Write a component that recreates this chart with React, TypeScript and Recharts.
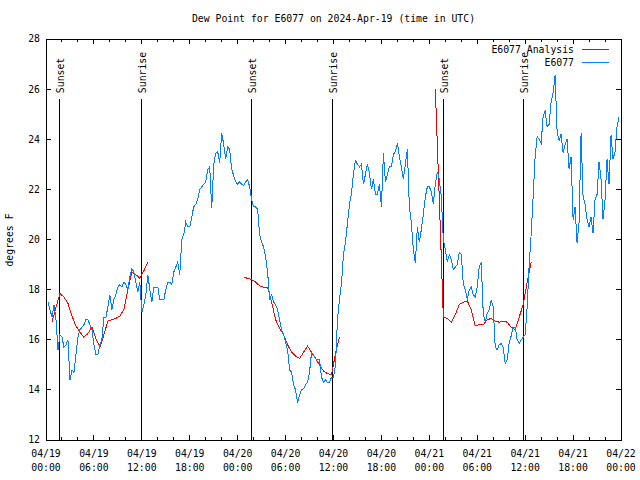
import React from 'react';
import { LineChart, Line, XAxis, YAxis, ReferenceLine, ReferenceArea, Legend } from 'recharts';

const FONT = '"DejaVu Sans Mono", monospace';
const FONT_SIZE = 9.8;
const PLOT_LEFT = 46;
const PLOT_RIGHT = 621;
const PLOT_TOP = 39;
const PLOT_BOTTOM = 440;

// E6077 observed dew point, every 15 minutes starting 04/19 00:15 UTC
const dewStartHour = 0.25;
const dewStepHours = 0.25;
const dewPoint = [
  17.5, 17.2, 16.9, 17.4, 16.8, 15.6, 16.2, 16.1, 15.7, 15.8,
  16.0, 14.4, 14.8, 14.7, 15.4, 16.1, 16.4, 16.5, 16.6, 16.8,
  16.8, 16.6, 16.4, 15.8, 15.4, 15.4, 15.8, 16.0, 16.9, 16.9,
  17.3, 17.8, 17.2, 17.6, 17.8, 18.1, 18.2, 18.1, 18.3, 18.2,
  18.0, 18.5, 18.85, 18.7, 18.3, 17.9, 18.3, 17.1, 17.4, 17.8,
  18.6, 18.0, 17.5, 18.1, 18.1, 18.1, 17.6, 17.6, 17.6, 18.0,
  18.3, 18.3, 18.2, 18.7, 18.9, 19.1, 18.6, 20.0, 20.2, 20.7,
  20.5, 20.5, 20.9, 21.3, 21.4, 21.6, 22.0, 22.1, 22.2, 22.3,
  22.8, 22.9, 21.25, 23.0, 23.45, 23.5, 23.05, 24.25, 23.8, 23.2,
  23.7, 23.6, 22.8, 22.55, 22.3, 22.2, 22.3, 22.2, 22.15, 22.3,
  22.4, 22.1, 21.6, 21.3, 21.3, 21.2, 20.2, 19.9, 19.7, 19.3,
  18.7, 17.6, 17.8, 17.5, 17.4, 17.2, 16.8, 16.4, 16.2, 15.9,
  15.6, 14.8, 14.7, 14.2, 14.0, 13.5, 13.8, 14.0, 14.05, 14.2,
  14.3, 14.7, 15.5, 15.4, 15.25, 15.2, 15.2, 14.5, 14.3, 14.4,
  14.3, 14.3, 14.5, 14.5, 15.0, 16.8, 17.6, 18.25, 19.4, 19.9,
  20.65, 21.4, 21.85, 22.65, 23.15, 23.0, 22.9, 23.0, 22.2, 22.6,
  23.0, 22.65, 22.0, 22.4, 21.8, 21.8, 22.2, 21.3, 23.45, 22.3,
  22.6, 22.9, 22.9, 23.4, 23.5, 23.85, 23.3, 22.9, 22.4, 23.0,
  23.6, 21.3, 20.65, 19.6, 19.05, 20.5, 19.9, 20.4, 21.0, 21.7,
  22.1, 22.1, 21.9, 21.4, 22.2, 22.7, 22.4, 21.7, 20.0, 19.6,
  19.1, 19.4, 19.2, 18.8, 18.9, 19.0, 19.5, 19.4, 18.25, 18.0,
  17.6, 18.0, 18.1, 17.8, 17.7, 18.1, 18.9, 19.1, 17.05, 16.7,
  17.05, 17.2, 17.6, 17.3, 15.7, 15.6, 15.8, 15.85, 15.7, 15.05,
  15.2, 15.9, 16.15, 16.5, 16.5, 16.0, 15.85, 16.0, 16.1, 16.2,
  17.3, 19.0, 20.2, 21.7, 23.3, 24.1, 24.0, 23.85, 24.9, 25.15,
  24.5, 24.6, 25.5, 25.85, 26.55, 24.3, 23.95, 24.2, 23.45, 23.8,
  24.0, 22.8, 23.3, 20.8, 21.3, 19.85, 20.7, 24.25, 21.7, 21.4,
  20.8, 20.5, 20.9, 20.25, 21.6, 21.8, 23.1, 22.4, 20.8, 21.6,
  23.2, 22.2, 24.15, 23.2, 23.5, 24.5, 24.9,
];

// analysis runs, every 30 minutes, one block per night
const analysisStepHours = 0.5;
const analysisStartHours = [0.75, 24.75, 48.75];
const analysisNight1 = [
  16.7, 17.3, 17.85, 17.7, 17.45, 16.95, 16.55, 16.3, 16.1, 16.25,
  16.5, 16.05, 15.7, 16.2, 16.75, 16.8, 16.85, 16.95, 17.2, 18.0,
  18.7, 18.6, 18.45, 18.75, 19.1,
];
const analysisNight2 = [
  18.5, 18.45, 18.4, 18.3, 18.15, 18.1, 18.1, 17.5, 16.8, 16.45,
  16.2, 15.8, 15.5, 15.35, 15.25, 15.5, 15.75, 15.5, 15.25, 15.0,
  14.75, 14.65, 14.6, 15.45, 16.1,
];
const analysisNight3 = [
  26.0, 21.6, 16.9, 16.85, 16.7, 17.0, 17.4, 17.5, 17.55, 17.2,
  16.55, 16.6, 16.6, 16.8, 16.85, 16.75, 16.7, 16.75, 16.7, 16.5,
  16.4, 16.9, 17.4, 18.3, 19.1,
];

const sunsetHours = [1.67, 25.71, 49.75];
const sunriseHours = [11.93, 35.85, 59.77];
const sunLineTop = 25.6;

const xTickHours = [
  0, 2, 4, 6, 8, 10, 12, 14, 16, 18, 20, 22, 24, 26, 28, 30, 32, 34, 36,
  38, 40, 42, 44, 46, 48, 50, 52, 54, 56, 58, 60, 62, 64, 66, 68, 70, 72,
];
const majorHours = [0, 6, 12, 18, 24, 30, 36, 42, 48, 54, 60, 66, 72];
const majorDates = ['04/19', '04/19', '04/19', '04/19', '04/20', '04/20', '04/20', '04/20', '04/21', '04/21', '04/21', '04/21', '04/22'];
const majorTimes = ['00:00', '06:00', '12:00', '18:00', '00:00', '06:00', '12:00', '18:00', '00:00', '06:00', '12:00', '18:00', '00:00'];
const yTicks = [12, 14, 16, 18, 20, 22, 24, 26, 28];

const seriesNames = ['E6077 Analysis', 'E6077'];
const seriesColors = ['#ff0000', '#0080ff'];

const dewData = dewPoint.map((v, i) => ({ hour: dewStartHour + i * dewStepHours, value: v }));
const analysisData = [analysisNight1, analysisNight2, analysisNight3].map((arr, s) =>
  arr.map((v, i) => ({ hour: analysisStartHours[s] + i * analysisStepHours, value: v }))
);

const textStyle = { fontFamily: FONT, fontSize: FONT_SIZE, fill: '#000' };

const XTick = (props: any) => {
  const { x, payload } = props;
  const idx = majorHours.indexOf(payload.value);
  const len = idx >= 0 ? 5 : 3;
  return (
    <g>
      <line x1={x} x2={x} y1={PLOT_BOTTOM} y2={PLOT_BOTTOM - len} stroke="#000" shapeRendering="crispEdges" />
      <line x1={x} x2={x} y1={PLOT_TOP} y2={PLOT_TOP + len} stroke="#000" shapeRendering="crispEdges" />
      {idx >= 0 && (
        <text x={x} y={PLOT_BOTTOM + 17} textAnchor="middle" style={textStyle}>{majorDates[idx]}</text>
      )}
      {idx >= 0 && (
        <text x={x} y={PLOT_BOTTOM + 31} textAnchor="middle" style={textStyle}>{majorTimes[idx]}</text>
      )}
    </g>
  );
};

const YTick = (props: any) => {
  const { y, payload } = props;
  return (
    <g>
      <line x1={PLOT_LEFT} x2={PLOT_LEFT + 5} y1={y} y2={y} stroke="#000" shapeRendering="crispEdges" />
      <line x1={PLOT_RIGHT - 5} x2={PLOT_RIGHT} y1={y} y2={y} stroke="#000" shapeRendering="crispEdges" />
      <text x={PLOT_LEFT - 6} y={y} dy="0.35em" textAnchor="end" style={textStyle}>{payload.value}</text>
    </g>
  );
};

const SunLabel = (props: any) => {
  const { viewBox, text } = props;
  if (!viewBox) return null;
  const x = viewBox.x + 5;
  const y = viewBox.y - 6;
  return (
    <text x={x} y={y} transform={`rotate(-90, ${x}, ${y})`} textAnchor="start" style={textStyle}>{text}</text>
  );
};

const renderLegend = () => (
  <div style={{ position: 'relative', width: 640, height: 0, fontFamily: FONT, fontSize: FONT_SIZE }}>
    {seriesNames.map((name, i) => (
      <React.Fragment key={name}>
        <div style={{ position: 'absolute', left: 0, width: 574, top: 44 + i * 13, lineHeight: '12px', textAlign: 'right', whiteSpace: 'pre' }}>
          {name}
        </div>
        <div style={{ position: 'absolute', left: 582, width: 27, top: 49 + i * 13, height: 1, background: seriesColors[i] }} />
      </React.Fragment>
    ))}
  </div>
);

export default function App() {
  return (
    <div style={{ position: 'absolute', left: 0, top: 0, width: 640, height: 480, background: '#fff', fontFamily: FONT }}>
      <div style={{ position: 'absolute', left: PLOT_LEFT, width: PLOT_RIGHT - PLOT_LEFT, top: 13, lineHeight: '12px', textAlign: 'center', fontSize: FONT_SIZE, whiteSpace: 'pre' }}>
        Dew Point for E6077 on 2024-Apr-19 (time in UTC)
      </div>
      <div style={{ position: 'absolute', left: 10, top: 240, transform: 'translate(-50%, -50%) rotate(-90deg)', fontSize: FONT_SIZE, whiteSpace: 'pre', lineHeight: '12px' }}>
        degrees F
      </div>
      <LineChart width={640} height={480} margin={{ top: PLOT_TOP, right: 640 - PLOT_RIGHT, bottom: 0, left: 0 }}>
        <XAxis
          dataKey="hour"
          type="number"
          domain={[0, 72]}
          ticks={xTickHours}
          interval={0}
          height={480 - PLOT_BOTTOM}
          axisLine={false}
          tickLine={false}
          tick={<XTick />}
          allowDataOverflow
        />
        <YAxis
          type="number"
          domain={[12, 28]}
          ticks={yTicks}
          interval={0}
          width={PLOT_LEFT}
          axisLine={false}
          tickLine={false}
          tick={<YTick />}
          allowDataOverflow
        />
        <ReferenceArea x1={0} x2={72} y1={12} y2={28} fill="none" fillOpacity={0} stroke="#000" strokeWidth={1} shapeRendering="crispEdges" />
        {sunsetHours.map((h) => (
          <ReferenceLine
            key={`ss-${h}`}
            segment={[{ x: h, y: 12 }, { x: h, y: sunLineTop }]}
            stroke="#000"
            shapeRendering="crispEdges"
            label={<SunLabel text="Sunset" />}
          />
        ))}
        {sunriseHours.map((h) => (
          <ReferenceLine
            key={`sr-${h}`}
            segment={[{ x: h, y: 12 }, { x: h, y: sunLineTop }]}
            stroke="#000"
            shapeRendering="crispEdges"
            label={<SunLabel text="Sunrise" />}
          />
        ))}
        {analysisData.map((d, i) => (
          <Line
            key={`an-${i}`}
            data={d}
            dataKey="value"
            name={seriesNames[0]}
            stroke={seriesColors[0]}
            strokeWidth={1}
            dot={false}
            activeDot={false}
            isAnimationActive={false}
            shapeRendering="crispEdges"
          />
        ))}
        <Line
          data={dewData}
          dataKey="value"
          name={seriesNames[1]}
          stroke={seriesColors[1]}
          strokeWidth={1}
          dot={false}
          activeDot={false}
          isAnimationActive={false}
          shapeRendering="crispEdges"
        />
        <Legend
          layout="horizontal"
          align="center"
          verticalAlign="middle"
          wrapperStyle={{ position: 'absolute', left: 0, top: 0, width: 640, height: 0 }}
          content={renderLegend}
        />
      </LineChart>
    </div>
  );
}
